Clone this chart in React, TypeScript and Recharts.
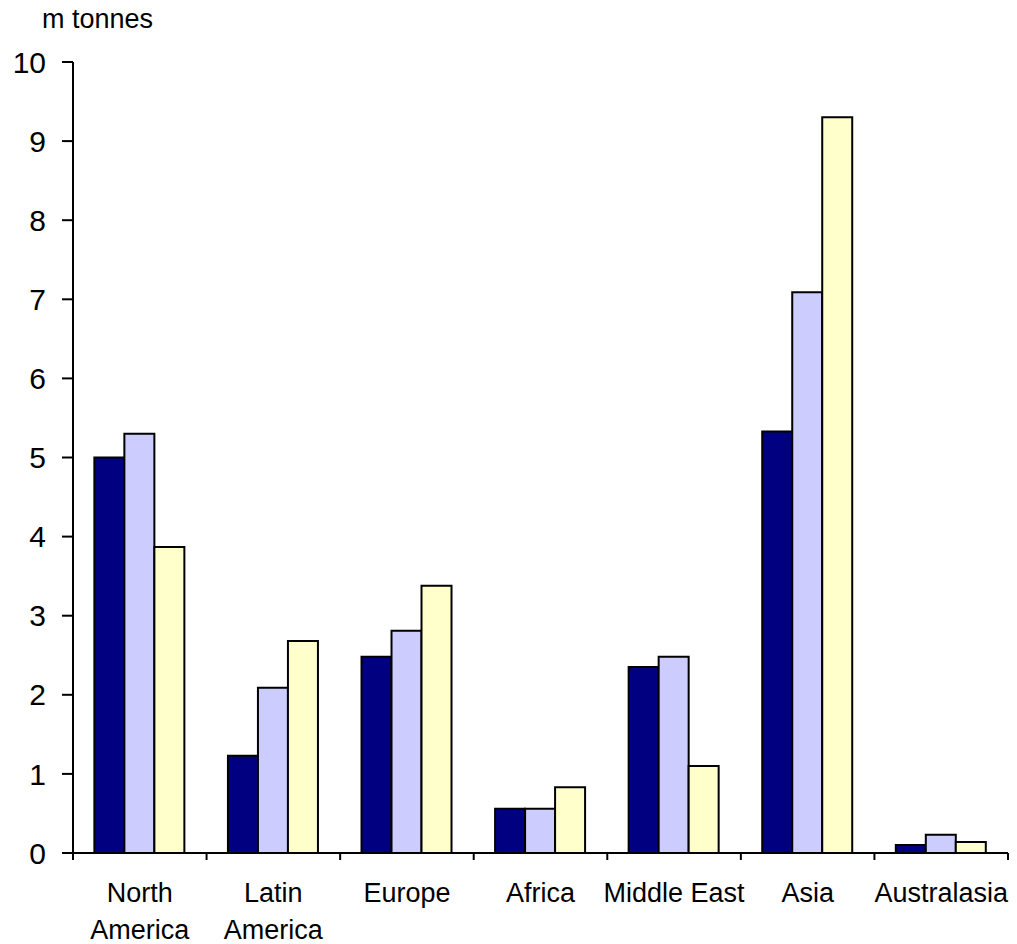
import React from 'react';
import { BarChart, Bar, XAxis, YAxis } from 'recharts';

const categories = ['North America', 'Latin America', 'Europe', 'Africa', 'Middle East', 'Asia', 'Australasia'];
const categoryLines = [['North', 'America'], ['Latin', 'America'], ['Europe'], ['Africa'], ['Middle East'], ['Asia'], ['Australasia']];
const series1 = [5.0, 1.23, 2.48, 0.56, 2.35, 5.33, 0.1];
const series2 = [5.3, 2.09, 2.81, 0.56, 2.48, 7.09, 0.23];
const series3 = [3.87, 2.68, 3.38, 0.83, 1.1, 9.3, 0.14];
const yTicks = [0, 1, 2, 3, 4, 5, 6, 7, 8, 9, 10];
const unitLabel = 'm tonnes';

const data = categories.map((c, i) => ({ name: c, s1: series1[i], s2: series2[i], s3: series3[i] }));

const FONT = '"Liberation Sans", Arial, sans-serif';

const CategoryTick = (props: any) => {
  const { x, y, index, width, visibleTicksCount } = props;
  const count = visibleTicksCount || categories.length;
  const band = (width || 935) / count;
  const lines = categoryLines[index] || [String(props.payload.value)];
  return (
    <g>
      <line x1={x - band / 2} x2={x - band / 2} y1={y} y2={y + 7} stroke="#000" strokeWidth={2} />
      {index === count - 1 && (
        <line x1={x + band / 2} x2={x + band / 2} y1={y} y2={y + 7} stroke="#000" strokeWidth={2} />
      )}
      <text x={x} y={y + 49} textAnchor="middle" fontSize={27} fontFamily={FONT} fill="#000">
        {lines.map((l: string, i: number) => (
          <tspan key={i} x={x} dy={i === 0 ? 0 : 37}>{l}</tspan>
        ))}
      </text>
    </g>
  );
};

export default function App() {
  return (
    <div style={{ position: 'absolute', left: 0, top: 0, width: 1017, height: 944, background: '#fff' }}>
      <div style={{ position: 'absolute', left: 42, top: 4, fontFamily: FONT, fontSize: 27, lineHeight: '31px', color: '#000' }}>
        {unitLabel}
      </div>
      <BarChart
        width={1017}
        height={944}
        data={data}
        margin={{ top: 62, right: 9, left: 0, bottom: 0 }}
        barCategoryGap="16%"
        barGap={0}
      >
        <XAxis
          dataKey="name"
          height={91}
          interval={0}
          tickSize={0}
          tickMargin={0}
          axisLine={{ stroke: '#000', strokeWidth: 2 }}
          tickLine={false}
          tick={<CategoryTick />}
        />
        <YAxis
          width={73}
          domain={[0, 10]}
          ticks={yTicks}
          interval={0}
          tickSize={11}
          tickMargin={16}
          axisLine={{ stroke: '#000', strokeWidth: 2 }}
          tickLine={{ stroke: '#000', strokeWidth: 2 }}
          tick={{ fill: '#000', fontSize: 30, fontFamily: FONT }}
        />
        <Bar dataKey="s1" fill="#000080" stroke="#000" strokeWidth={2} isAnimationActive={false} />
        <Bar dataKey="s2" fill="#CCCCFF" stroke="#000" strokeWidth={2} isAnimationActive={false} />
        <Bar dataKey="s3" fill="#FFFFCC" stroke="#000" strokeWidth={2} isAnimationActive={false} />
      </BarChart>
    </div>
  );
}
